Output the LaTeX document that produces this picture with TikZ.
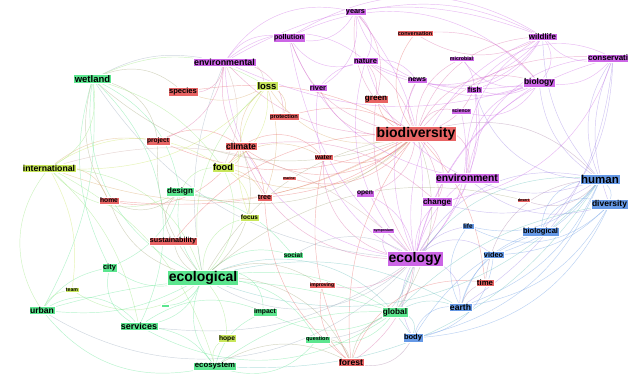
\documentclass[tikz,border=0pt]{standalone}
\usepackage{fontspec}
\setmainfont{Liberation Sans}
\usetikzlibrary{backgrounds}
\definecolor{cR}{HTML}{E86464}
\definecolor{cP}{HTML}{CC66E6}
\definecolor{cG}{HTML}{5CE68F}
\definecolor{cY}{HTML}{C8E65A}
\definecolor{cB}{HTML}{6699E6}
\newcommand\fz[1]{\fontsize{#1}{#1}\selectfont\bfseries}
\newcommand\nd[6]{\colorlet{col#1}{c#2}\node[kw, fill=c#2, font=\fz{#5}] (#1) at (#3,#4) {#6};}
\begin{document}
\begin{tikzpicture}[x=1pt, y=-1pt,
  kw/.style={rectangle, inner xsep=1.2pt, inner ysep=0.9pt, text=black, draw=white, line width=0.3pt},
  ed/.style={line width=0.45pt, draw opacity=0.45}]
\useasboundingbox (0,0) rectangle (628,390);
\nd{wet}{G}{92.5}{79}{9.5}{wetland}
\nd{spe}{R}{183}{91.5}{7.6}{species}
\nd{envl}{P}{224.5}{62}{8.9}{environmental}
\nd{pol}{P}{289}{37.5}{7.1}{pollution}
\nd{yrs}{P}{355.5}{12}{7.3}{years}
\nd{conv}{R}{415}{33.5}{5.5}{conversation}
\nd{mic}{P}{461.5}{58.5}{5.2}{microbial}
\nd{wild}{P}{542.5}{36.5}{8}{wildlife}
\nd{cons}{P}{613}{58}{8}{conservation}
\nd{loss}{Y}{267}{86}{9.5}{loss}
\nd{riv}{P}{318}{88}{7.4}{river}
\nd{nat}{P}{365.5}{61}{7.5}{nature}
\nd{news}{P}{417}{80}{7.2}{news}
\nd{grn}{R}{376}{99}{8.1}{green}
\nd{fish}{P}{474.5}{89.5}{7.5}{fish}
\nd{biol}{P}{539}{82.5}{8.4}{biology}
\nd{sci}{P}{461}{111}{4.9}{science}
\nd{prot}{R}{284}{116.7}{5.7}{protection}
\nd{proj}{R}{158}{141}{6.6}{project}
\nd{bio}{R}{416}{134}{14}{biodiversity}
\nd{clim}{R}{241}{146.5}{8.7}{climate}
\nd{wat}{R}{323.5}{157.5}{6.5}{water}
\nd{food}{Y}{223}{167.5}{9.2}{food}
\nd{intl}{Y}{49}{168}{8.7}{international}
\nd{des}{G}{180}{191.5}{8}{design}
\nd{mar}{R}{289}{178}{3.5}{marine}
\nd{tree}{R}{264.5}{197.5}{7.1}{tree}
\nd{open}{P}{365}{193.5}{6.7}{open}
\nd{focus}{Y}{249.5}{217.5}{6.4}{focus}
\nd{symp}{P}{383.5}{231}{3.5}{symposium}
\nd{soc}{G}{293}{255}{6.4}{social}
\nd{home}{R}{109}{200.5}{6.7}{home}
\nd{sust}{R}{173}{241}{7.2}{sustainability}
\nd{env}{P}{467}{178}{10.3}{environment}
\nd{hum}{B}{600}{179.5}{11.5}{human}
\nd{div}{B}{609.5}{204.5}{8.5}{diversity}
\nd{chg}{P}{437}{202}{8}{change}
\nd{dsrt}{R}{523.5}{200}{3.7}{desert}
\nd{life}{B}{468}{226}{6.5}{life}
\nd{biolg}{B}{540.5}{231.5}{7.5}{biological}
\nd{video}{B}{493.5}{255}{7.3}{video}
\nd{eco}{P}{415}{258.5}{14}{ecology}
\nd{ecol}{G}{203}{277.5}{14}{ecological}
\nd{city}{G}{109.5}{267.5}{7.5}{city}
\nd{team}{Y}{72}{290}{5.2}{team}
\nd{urb}{G}{42}{310.5}{8.6}{urban}
\colorlet{coldash}{cG}
\node[kw, fill=cG, minimum width=8pt, minimum height=3pt, inner sep=0pt] (dash) at (165,306) {};
\nd{serv}{G}{139}{326}{9}{services}
\nd{ecos}{G}{215}{366}{7.8}{ecosystem}
\nd{imp}{R}{322}{285}{5}{improving}
\nd{impa}{G}{265}{312}{6.8}{impact}
\nd{glob}{G}{395}{312}{8.2}{global}
\nd{hope}{Y}{227}{338.5}{6.7}{hope}
\nd{ques}{G}{317.5}{339.5}{5.5}{question}
\nd{forest}{R}{351}{362.5}{8.6}{forest}
\nd{body}{B}{413}{338}{7.5}{body}
\nd{time}{R}{485}{282.5}{7.8}{time}
\nd{earth}{B}{460.5}{307}{8.6}{earth}
\begin{scope}[on background layer]
\fill[white] (0,0) rectangle (628,390);
\foreach \a/\b [count=\i] in {bio/envl,bio/pol,bio/yrs,bio/conv,bio/nat,bio/grn,bio/riv,bio/loss,bio/clim,bio/spe,bio/proj,bio/wat,bio/wild,bio/biol,bio/fish,bio/cons,bio/hum,bio/eco,bio/env,bio/forest,bio/intl,bio/wet,bio/food,bio/tree,bio/prot,bio/news,bio/mic,bio/sci,bio/home,bio/ecol,bio/glob,bio/open,bio/chg,bio/time,bio/sust,bio/des,bio/mar,
eco/envl,eco/pol,eco/yrs,eco/nat,eco/riv,eco/wild,eco/biol,eco/fish,eco/cons,eco/hum,eco/env,eco/chg,eco/open,eco/symp,eco/ecol,eco/glob,eco/forest,eco/body,eco/earth,eco/video,eco/life,eco/news,eco/sci,eco/clim,eco/wat,eco/grn,eco/imp,eco/soc,eco/ques,eco/urb,eco/serv,eco/wet,eco/intl,
ecol/wet,ecol/urb,ecol/city,ecol/serv,ecol/ecos,ecol/impa,ecol/glob,ecol/des,ecol/soc,ecol/intl,ecol/team,ecol/hope,ecol/ques,ecol/dash,ecol/food,ecol/focus,ecol/sust,ecol/home,ecol/forest,ecol/hum,ecol/body,ecol/earth,ecol/imp,ecol/loss,ecol/clim,ecol/envl,ecol/proj,ecol/dsrt,
hum/div,hum/biolg,hum/video,hum/earth,hum/body,hum/life,hum/time,hum/env,hum/chg,hum/cons,hum/dsrt,hum/glob,hum/wild,hum/biol,hum/ecos,hum/fish,
div/biolg,div/video,div/earth,div/body,div/life,div/glob,div/cons,div/env,
env/wild,env/biol,env/fish,env/nat,env/pol,env/chg,env/cons,
envl/wet,envl/loss,envl/pol,envl/yrs,envl/spe,envl/clim,envl/food,envl/proj,envl/prot,envl/nat,envl/biol,envl/wild,
wet/spe,wet/intl,wet/urb,wet/city,wet/des,wet/proj,wet/serv,wet/food,wet/home,wet/loss,
yrs/pol,yrs/nat,yrs/wild,yrs/news,yrs/grn,yrs/riv,
wild/biol,wild/fish,wild/cons,wild/conv,wild/news,wild/nat,
biol/fish,biol/cons,biol/mic,biol/sci,biol/nat,biol/news,biol/conv,
pol/wild,pol/biol,mic/fish,
loss/spe,loss/clim,loss/food,loss/prot,loss/tree,loss/intl,loss/focus,
clim/food,clim/wat,clim/tree,clim/chg,clim/proj,clim/home,
urb/serv,urb/city,urb/team,urb/ecos,urb/intl,urb/glob,
serv/ecos,serv/impa,serv/glob,serv/city,intl/serv,intl/ecos,
ecos/forest,ecos/ques,ecos/hope,ecos/glob,ecos/impa,
forest/glob,forest/body,forest/time,forest/wat,forest/tree,forest/imp,forest/ques,
glob/body,glob/earth,glob/impa,glob/ques,
earth/body,earth/video,earth/time,earth/biolg,earth/life,
body/video,body/biolg,
intl/proj,intl/home,intl/food,intl/des,intl/team,
des/city,des/food,des/home,des/sust,des/soc,
food/tree,food/focus,food/wat,
cons/fish,cons/biolg,cons/earth,cons/chg,
nat/pol,nat/riv,nat/grn,nat/news}{
  \pgfmathtruncatemacro\bb{16+mod(\i*29,24)}
  \pgfmathtruncatemacro\sg{mod(\i*7,5)==0 ? -1 : 1}
  \draw[ed, draw=col\a!50!col\b] (\a) to[bend left=\sg*\bb] (\b);
}
\end{scope}
\end{tikzpicture}
\end{document}
